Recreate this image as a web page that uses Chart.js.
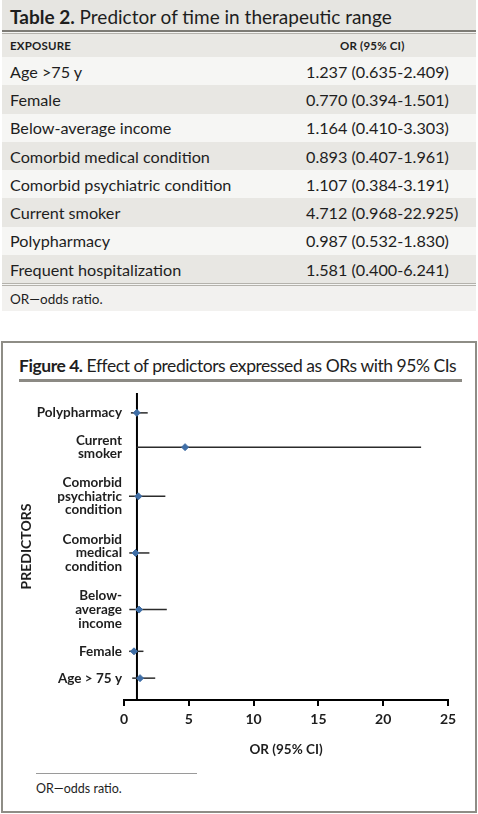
<!DOCTYPE html>
<html>
<head>
<meta charset="utf-8">
<script src="https://cdn.jsdelivr.net/npm/chart.js@4"></script>
<style>
  body { margin: 0; width: 478px; height: 814px; background: #fff; font-family: Lato, "Open Sans", sans-serif; color: #1e1e1e; position: relative; overflow: hidden; }
  #tbl { position: absolute; left: 2px; top: 0; width: 474px; }
  .title { height: 30px; background: #e6e5e1; font-size: 19px; line-height: 34px; padding-left: 8px; box-sizing: border-box; white-space: nowrap; }
  .rule1 { height: 2px; background: #7d7b75; }
  .rule2 { height: 1px; background: #f4f4f2; }
  .rule3 { height: 1px; background: #b4b2ac; }
  .row { display: flex; align-items: center; box-sizing: border-box; padding-left: 8px; white-space: nowrap; }
  .row .c2 { position: absolute; left: 304px; }
  .head { height: 23px; background: #e9e8e4; font-size: 11.5px; font-weight: bold; letter-spacing: 0.2px; }
  .head .c2 { left: 338px; }
  .body { height: 28.3px; font-size: 16.2px; }
  .light { background: #f6f6f4; }
  .dark { background: #e8e7e3; }
  .foot { height: 25px; background: #f2f1ef; font-size: 13.5px; }
  #fig { position: absolute; left: 1px; top: 341px; width: 472px; height: 468px; border: 2px solid #8e8d86; }
  #figtitle { position: absolute; left: 16px; top: 12px; font-size: 17.5px; letter-spacing: -0.45px; white-space: nowrap; }
  #figrule { position: absolute; left: 16px; top: 36px; width: 443px; height: 3px; background: #8c8a84; }
  #chartbox { position: absolute; left: 0; top: 384px; width: 478px; height: 376px; }
  #fnrule { position: absolute; left: 36px; top: 773px; width: 161px; height: 1px; background: #9a9a9a; }
  #fntext { position: absolute; left: 36px; top: 781px; font-size: 12.5px; }
</style>
</head>
<body>
<div id="tbl">
  <div class="title"><b>Table 2.</b> Predictor of time in therapeutic range</div>
  <div class="rule1"></div><div class="rule2"></div><div class="rule3"></div>
  <div class="row head"><span>EXPOSURE</span><span class="c2">OR (95% CI)</span></div>
  <div id="rows"></div>
  <div class="rule3"></div><div class="rule2"></div><div class="rule3"></div>
  <div class="row foot">OR—odds ratio.</div>
</div>

<div id="fig">
  <div id="figtitle"><b>Figure 4.</b> Effect of predictors expressed as ORs with 95% CIs</div>
  <div id="figrule"></div>
</div>
<div id="chartbox"><canvas id="forest"></canvas></div>
<div id="fnrule"></div>
<div id="fntext">OR—odds ratio.</div>

<script>
// Table 2 values
const tableExposures = ['Age >75 y', 'Female', 'Below-average income', 'Comorbid medical condition',
  'Comorbid psychiatric condition', 'Current smoker', 'Polypharmacy', 'Frequent hospitalization'];
const tableCI = ['1.237 (0.635-2.409)', '0.770 (0.394-1.501)', '1.164 (0.410-3.303)', '0.893 (0.407-1.961)',
  '1.107 (0.384-3.191)', '4.712 (0.968-22.925)', '0.987 (0.532-1.830)', '1.581 (0.400-6.241)'];

// Figure 4 values (top to bottom)
const predictors = [['Polypharmacy'], ['Current', 'smoker'], ['Comorbid', 'psychiatric', 'condition'],
  ['Comorbid', 'medical', 'condition'], ['Below-', 'average', 'income'], ['Female'], ['Age > 75 y']];
const oddsRatio = [0.987, 4.712, 1.107, 0.893, 1.164, 0.770, 1.237];
const ciLow = [0.532, 0.968, 0.384, 0.407, 0.410, 0.394, 0.635];
const ciHigh = [1.830, 22.925, 3.191, 1.961, 3.303, 1.501, 2.409];
const xTicks = [0, 5, 10, 15, 20, 25];
const refLine = 1;

// fill the table
const rowsDiv = document.getElementById('rows');
tableExposures.forEach((name, i) => {
  const r = document.createElement('div');
  r.className = 'row body ' + (i % 2 === 0 ? 'light' : 'dark');
  r.innerHTML = '<span>' + name + '</span><span class="c2">' + tableCI[i] + '</span>';
  rowsDiv.appendChild(r);
});

// rows get more room when their label wraps onto more lines
const GAP = 12, LINE = 15;
const rowY = [0];
for (let i = 1; i < predictors.length; i++) {
  rowY.push(rowY[i - 1] + GAP + LINE * (predictors[i - 1].length + predictors[i].length) / 2);
}

const ciSets = predictors.map((p, i) => ({
  type: 'scatter',
  data: [{ x: ciLow[i], y: rowY[i] }, { x: ciHigh[i], y: rowY[i] }],
  showLine: true,
  borderColor: '#2b2b2b',
  borderWidth: 1.5,
  pointRadius: 0,
  order: 2
}));

const refLinePlugin = {
  id: 'refLine',
  beforeDatasetsDraw(chart) {
    const { ctx, chartArea, scales } = chart;
    const x = scales.x.getPixelForValue(refLine);
    ctx.save();
    ctx.strokeStyle = '#000';
    ctx.lineWidth = 2;
    ctx.beginPath();
    ctx.moveTo(x, chartArea.top);
    ctx.lineTo(x, chartArea.bottom);
    ctx.stroke();
    ctx.restore();
  }
};

const ctx = document.getElementById('forest').getContext('2d');
new Chart(ctx, {
  type: 'scatter',
  data: {
    datasets: [{
      data: oddsRatio.map((v, i) => ({ x: v, y: rowY[i] })),
      pointStyle: 'rectRot',
      pointRadius: 3.5,
      backgroundColor: '#3f6ea6',
      borderColor: '#3f6ea6',
      order: 1
    }].concat(ciSets)
  },
  options: {
    responsive: true,
    maintainAspectRatio: false,
    animation: false,
    events: [],
    layout: { padding: { left: 16, right: 30, top: 9, bottom: 0 } },
    plugins: { legend: { display: false }, tooltip: { enabled: false } },
    scales: {
      x: {
        type: 'linear',
        min: xTicks[0],
        max: xTicks[xTicks.length - 1],
        afterBuildTicks: s => { s.ticks = xTicks.map(v => ({ value: v })); },
        afterFit: s => { s.height = 60; },
        grid: { drawOnChartArea: false, color: '#000', lineWidth: 2, tickLength: 6 },
        border: { color: '#000', width: 2 },
        ticks: { color: '#1e1e1e', font: { family: 'Lato', size: 14, weight: 'bold' }, padding: 5 },
        title: { display: true, text: 'OR (95% CI)', color: '#1e1e1e', font: { family: 'Lato', size: 13.5, weight: 'bold' }, padding: { top: 4, bottom: 2 } }
      },
      y: {
        type: 'linear',
        reverse: true,
        min: -20,
        max: 289,
        afterBuildTicks: s => { s.ticks = rowY.map(v => ({ value: v })); },
        afterFit: s => { s.width = 108; },
        grid: { display: false, drawTicks: false },
        border: { display: false },
        ticks: {
          color: '#1e1e1e',
          padding: 2,
          font: { family: 'Lato', size: 13.5, weight: 'bold', lineHeight: 1.02 },
          callback: (v, i) => predictors[i]
        },
        title: { display: true, text: 'PREDICTORS', color: '#1e1e1e', font: { family: 'Lato', size: 14, weight: 'bold' }, padding: 2 }
      }
    }
  },
  plugins: [refLinePlugin]
});
</script>
</body>
</html>
